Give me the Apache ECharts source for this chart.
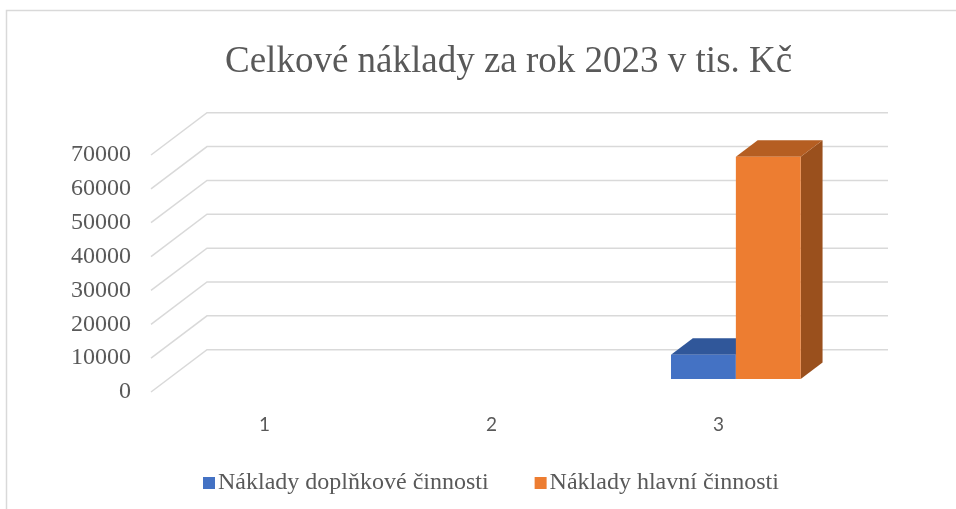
<!DOCTYPE html>
<html>
<head>
<meta charset="utf-8">
<script src="https://cdn.jsdelivr.net/npm/echarts@6/dist/echarts.min.js"></script>
<style>
  html, body { margin: 0; padding: 0; background: #fff; }
  #chart { width: 956px; height: 509px; }
</style>
</head>
<body>
<div id="chart"></div>
<script>
const categories = ['1', '2', '3']
const doplnkove = [null, null, 7100]
const hlavni = [null, null, 65600]
const yTicks = [0, 10000, 20000, 30000, 40000, 50000, 60000, 70000]

const seriesNames = ['Náklady doplňkové činnosti', 'Náklady hlavní činnosti']
const faceColors = [
  { front: '#4472C4', top: '#30579A', side: '#2A4C86' },
  { front: '#ED7D31', top: '#B55E22', side: '#9A501D' },
]

// oblique depth of the floor (front plane -> back wall)
const DX = 56
const DY = -42.3
// bars sit from 31% to 70% of the depth
const F0 = 0.31
const FD = 0.39

const chart = echarts.init(document.getElementById('chart'))

function barItem(k) {
  return function (params, api) {
    const val = api.value(1)
    if (val == null || isNaN(val)) return null
    const cat = api.value(0)
    const base = api.coord([cat, 0])
    const top = api.coord([cat, val])
    const band = api.size([1, 0])[0]
    const w = band / 3.5
    const cx = base[0] + DX * F0
    const x0 = cx - w + k * w
    const x1 = x0 + w
    const yb = base[1] + DY * F0
    const yt = top[1] + DY * F0
    const bx = DX * FD
    const by = DY * FD
    const c = faceColors[k]
    return {
      type: 'group',
      children: [
        {
          type: 'polygon',
          shape: { points: [[x1, yt], [x1 + bx, yt + by], [x1 + bx, yb + by], [x1, yb]] },
          style: { fill: c.side },
        },
        {
          type: 'polygon',
          shape: { points: [[x0, yt], [x1, yt], [x1 + bx, yt + by], [x0 + bx, yt + by]] },
          style: { fill: c.top },
        },
        {
          type: 'rect',
          shape: { x: x0, y: yt, width: w, height: yb - yt },
          style: { fill: c.front },
        },
      ],
    }
  }
}

function gridItem(params, api) {
  const cs = params.coordSys
  const p = api.coord([0, api.value(1)])
  const x0 = cs.x
  const y = p[1]
  return {
    type: 'polyline',
    shape: {
      points: [[x0, y], [x0 + DX, y + DY], [x0 + cs.width + DX, y + DY]],
    },
    style: { stroke: '#d9d9d9', lineWidth: 1.5, fill: null },
    silent: true,
  }
}

chart.setOption({
  backgroundColor: '#fff',
  animation: false,
  title: {
    text: 'Celkové náklady za rok 2023 v tis. Kč',
    left: 220,
    top: 39,
    textStyle: {
      fontFamily: 'Liberation Serif',
      fontSize: 37,
      fontWeight: 'normal',
      color: '#595959',
    },
  },
  graphic: [
    {
      type: 'rect',
      shape: { x: 6.5, y: 10.5, width: 970, height: 520 },
      style: { fill: null, stroke: '#d9d9d9', lineWidth: 1.5 },
      silent: true,
    },
  ],
  legend: {
    data: seriesNames,
    left: 198,
    top: 466,
    icon: 'rect',
    itemWidth: 12,
    itemHeight: 12,
    itemGap: 46,
    textStyle: {
      fontFamily: 'Liberation Serif',
      fontSize: 24,
      color: '#595959',
      padding: [0, 0, 0, -2],
    },
  },
  grid: { left: 151, right: 124, top: 155, bottom: 117, containLabel: false },
  xAxis: {
    type: 'category',
    data: categories,
    axisLine: { show: false },
    axisTick: { show: false },
    axisLabel: { fontFamily: 'Lato', fontSize: 19, color: '#595959', margin: 23 },
  },
  yAxis: {
    type: 'value',
    min: 0,
    max: 70000,
    interval: 10000,
    splitLine: { show: false },
    axisLine: { show: false },
    axisTick: { show: false },
    axisLabel: {
      fontFamily: 'Liberation Serif',
      fontSize: 24,
      color: '#595959',
      margin: 20,
      formatter: (v) => String(v),
    },
  },
  series: [
    {
      type: 'custom',
      name: 'grid',
      silent: true,
      renderItem: gridItem,
      data: yTicks.map((v) => [0, v]),
      z: 1,
    },
    {
      type: 'custom',
      name: seriesNames[0],
      renderItem: barItem(0),
      itemStyle: { color: faceColors[0].front },
      data: doplnkove.map((v, i) => [i, v]),
      z: 2,
    },
    {
      type: 'custom',
      name: seriesNames[1],
      renderItem: barItem(1),
      itemStyle: { color: faceColors[1].front },
      data: hlavni.map((v, i) => [i, v]),
      z: 3,
    },
  ],
})
</script>
</body>
</html>
